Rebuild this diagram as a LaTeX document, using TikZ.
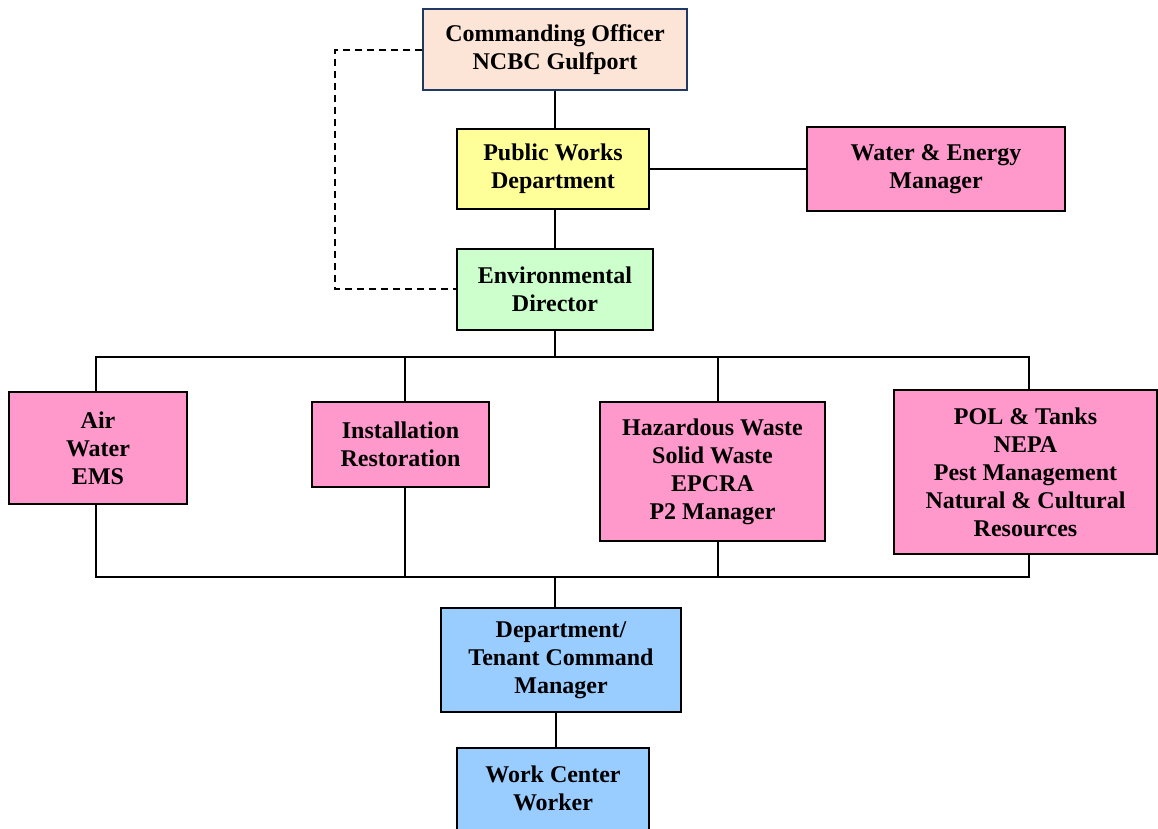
\documentclass[tikz,border=0pt]{standalone}
\usepackage{fontspec}
\setmainfont{Liberation Serif}
\definecolor{cpeach}{HTML}{FCE5D6}
\definecolor{cnavy}{HTML}{1F3864}
\definecolor{cyellow}{HTML}{FFFF99}
\definecolor{cpink}{HTML}{FF99CC}
\definecolor{cgreen}{HTML}{CCFFCC}
\definecolor{cblue}{HTML}{99CCFF}
\tikzset{
  box/.style={draw=black, line width=2pt, rectangle, align=center, inner sep=0pt,
    font=\fontsize{24}{28}\selectfont\bfseries},
  link/.style={draw=black, line width=1.6pt},
  dlink/.style={draw=black, line width=1.6pt, dash pattern=on 7pt off 5pt},
}
\begin{document}
\begin{tikzpicture}[x=1pt,y=-1pt]
\useasboundingbox (0,0) rectangle (1158,829);
\node[box, draw=cnavy, fill=cpeach, minimum width=264pt, minimum height=81pt] (co) at (555,50) {Commanding Officer\\NCBC Gulfport};
\node[box, fill=cyellow, minimum width=192pt, minimum height=80pt] (pwd) at (553,169) {Public Works\\Department};
\node[box, fill=cpink, minimum width=258pt, minimum height=84pt] (we) at (936,169) {Water \& Energy\\Manager};
\node[box, fill=cgreen, minimum width=196pt, minimum height=81pt] (ed) at (555,289) {Environmental\\Director};
\node[box, fill=cpink, minimum width=178pt, minimum height=112pt] (air) at (98,448) {Air\\Water\\EMS};
\node[box, fill=cpink, minimum width=177pt, minimum height=85pt] (ir) at (400.5,444.5) {Installation\\Restoration};
\node[box, fill=cpink, minimum width=225pt, minimum height=139pt] (hw) at (712.5,471.5) {Hazardous Waste\\Solid Waste\\EPCRA\\P2 Manager};
\node[box, fill=cpink, minimum width=263pt, minimum height=164pt] (pol) at (1025.5,472) {POL \& Tanks\\NEPA\\Pest Management\\Natural \& Cultural\\Resources};
\node[box, fill=cblue, minimum width=240pt, minimum height=104pt] (dept) at (561,660) {Department/\\Tenant Command\\Manager};
\node[box, fill=cblue, minimum width=192pt, minimum height=108pt] (wc) at (553,802) {Work Center\\Worker\\\mbox{}};
\coordinate (bt) at (555,357);
\coordinate (bb) at (555,577);
% top chain
\draw[link] (co.south -| 555,0) -- (pwd.north -| 555,0);
\draw[link] (pwd.east) -- (we.west);
\draw[link] (pwd.south -| 555,0) -- (ed.north -| 555,0);
\draw[dlink] (co.west) -- ++(-87,0) |- (ed.west);
% top bus
\draw[link] (ed.south -| bt) -- (bt);
\draw[link] (air.north -| 96,0) |- (bt);
\draw[link] (pol.north -| 1029,0) |- (bt);
\draw[link] (ir.north -| 405,0) -- (bt -| 405,0);
\draw[link] (hw.north -| 718,0) -- (bt -| 718,0);
% bottom bus
\draw[link] (air.south -| 96,0) |- (bb);
\draw[link] (pol.south -| 1029,0) |- (bb);
\draw[link] (ir.south -| 405,0) -- (bb -| 405,0);
\draw[link] (hw.south -| 718,0) -- (bb -| 718,0);
\draw[link] (bb) -- (dept.north -| bb);
\draw[link] (dept.south -| 556,0) -- (wc.north -| 556,0);
\end{tikzpicture}
\end{document}
